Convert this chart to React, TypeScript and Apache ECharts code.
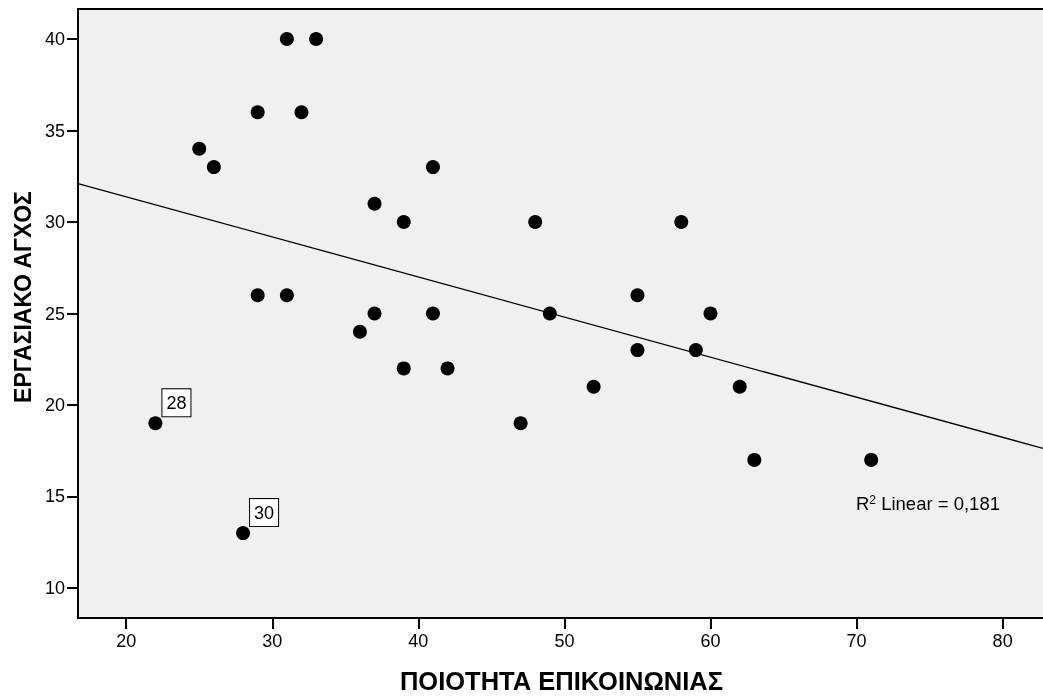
import React, { useEffect, useRef } from "react";
import * as echarts from "echarts";

const xValues = [22, 28, 25, 26, 29, 31, 33, 32, 29, 31, 36, 37, 37, 39, 39, 41, 41, 42, 47, 48, 49, 52, 55, 55, 58, 59, 60, 62, 63, 71];
const yValues = [19, 13, 34, 33, 36, 40, 40, 36, 26, 26, 24, 25, 31, 30, 22, 33, 25, 22, 19, 30, 25, 21, 26, 23, 30, 23, 25, 21, 17, 17];
const caseLabels: Record<number, string> = { 0: "28", 1: "30" };
const fitLine = [[16.7, 32.1], [82.9, 17.6]];
const xTicks = [20, 30, 40, 50, 60, 70, 80];
const yTicks = [10, 15, 20, 25, 30, 35, 40];
const xTitle = "ΠΟΙΟΤΗΤΑ ΕΠΙΚΟΙΝΩΝΙΑΣ";
const yTitle = "ΕΡΓΑΣΙΑΚΟ ΑΓΧΟΣ";
const r2Text = "0,181";

export default function App() {
  const ref = useRef<HTMLDivElement>(null);
  useEffect(() => {
    const chart = echarts.init(ref.current!, null, { renderer: "svg" });
    const font = "'Liberation Sans', Arial, sans-serif";
    const points = xValues.map((x, i) => {
      const item: any = { value: [x, yValues[i]] };
      if (caseLabels[i] !== undefined) {
        item.label = {
          show: true,
          formatter: caseLabels[i],
          position: [14, -27],
          color: "#000",
          fontSize: 18,
          fontFamily: font,
          backgroundColor: "#fff",
          borderColor: "#000",
          borderWidth: 1,
          padding: [5, 4, 4, 4],
        };
      }
      return item;
    });
    chart.setOption({
      animation: false,
      grid: {
        left: 78,
        top: 9,
        right: -2,
        bottom: 79,
        outerBoundsMode: "none",
        containLabel: false,
        show: true,
        backgroundColor: "#f0f0f0",
        borderColor: "#000",
        borderWidth: 2,
      },
      xAxis: {
        type: "value",
        min: 16.7,
        max: 82.9,
        name: xTitle,
        nameLocation: "middle",
        nameGap: 50,
        nameTextStyle: { fontSize: 25.5, fontWeight: "bold", color: "#000", fontFamily: font },
        axisLine: { show: true, lineStyle: { color: "#000", width: 2 } },
        axisTick: { show: true, length: 11, lineStyle: { color: "#000", width: 2 }, customValues: xTicks },
        axisLabel: {
          fontSize: 18,
          color: "#000",
          fontFamily: font,
          margin: 14,
          customValues: xTicks,
        },
        splitLine: { show: false },
      },
      yAxis: {
        type: "value",
        min: 8.36,
        max: 41.64,
        axisLine: { show: true, lineStyle: { color: "#000", width: 2 } },
        axisTick: { show: true, length: 11, lineStyle: { color: "#000", width: 2 }, customValues: yTicks },
        axisLabel: { fontSize: 18, color: "#000", fontFamily: font, margin: 13, customValues: yTicks },
        splitLine: { show: false },
      },
      graphic: [
        {
          type: "text",
          x: 23,
          y: 297,
          rotation: Math.PI / 2,
          style: {
            text: yTitle,
            fontSize: 23,
            fontWeight: "bold",
            fontFamily: font,
            fill: "#000",
            align: "center",
            verticalAlign: "middle",
          },
        },
        {
          type: "text",
          left: 856,
          top: 494,
          style: {
            text: "{r|R}{s|2}{r| Linear = " + r2Text + "}",
            rich: {
              r: { fontSize: 18.5, fontFamily: font, fill: "#000", verticalAlign: "bottom" },
              s: { fontSize: 12, fontFamily: font, fill: "#000", verticalAlign: "top", padding: [0, 0, 6, 0] },
            },
          },
          z: 10,
        },
      ],
      series: [
        {
          type: "line",
          data: fitLine,
          showSymbol: false,
          symbol: "none",
          lineStyle: { color: "#000", width: 1.3 },
          z: 2,
          silent: true,
        },
        {
          type: "scatter",
          data: points,
          symbol: "circle",
          symbolSize: 14,
          itemStyle: { color: "#000", opacity: 1 },
          z: 3,
        },
      ],
    });
    return () => chart.dispose();
  }, []);
  return <div ref={ref} style={{ position: "fixed", left: 0, top: 0, width: 1043, height: 697 }} />;
}
